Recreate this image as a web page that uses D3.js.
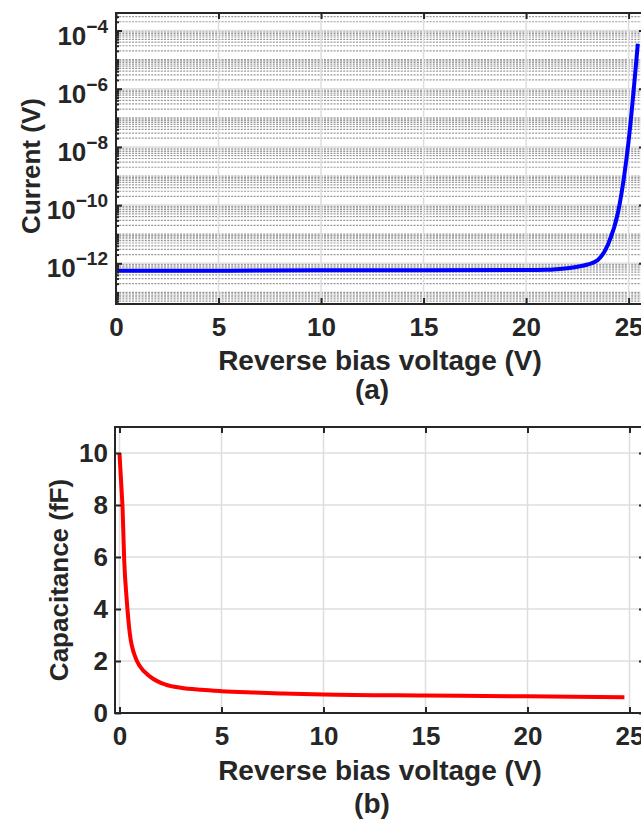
<!DOCTYPE html>
<html>
<head>
<meta charset="utf-8">
<script src="https://cdn.jsdelivr.net/npm/d3@7"></script>
<style>
  body { margin: 0; background: #fff; }
  text { font-family: "Liberation Sans", Arial, sans-serif; font-weight: bold; fill: #262626; }
</style>
</head>
<body>
<script>
// (a) reverse current vs bias
const voltA = [0, 5, 10, 15, 20, 21, 21.5, 22, 22.5, 23, 23.5, 24, 24.5, 25, 25.45]
const currentA = [5.6e-13, 5.6e-13, 5.8e-13, 5.8e-13, 5.9e-13, 6.0e-13, 6.3e-13, 6.8e-13, 7.6e-13, 9.1e-13, 1.3e-12, 4.5e-12, 6.3e-11, 1.6e-8, 3.5e-5]

// (b) capacitance vs bias
const voltB = [0, 0.1, 0.15, 0.23, 0.35, 0.5, 0.8, 1.0, 1.5, 2.3, 3, 4, 5, 6.5, 8, 10, 15, 20, 24.75]
const capB = [10, 8.6, 7.9, 5.9, 4.4, 3.1, 2.1, 1.8, 1.4, 1.08, 0.97, 0.89, 0.84, 0.79, 0.75, 0.71, 0.67, 0.64, 0.61]

const xTicks = [0, 5, 10, 15, 20, 25]
const yTicksA = [1e-12, 1e-10, 1e-8, 1e-6, 1e-4]
const yTicksB = [0, 2, 4, 6, 8, 10]
const xTitle = "Reverse bias voltage (V)"

var width = 641, height = 820
var axisColor = "#262626", gridColor = "#dedede"

var svg = d3.select("body").append("svg")
  .attr("width", width)
  .attr("height", height)

// ---------- panel (a) ----------
var xa = d3.scaleLinear().domain([0, 25.8]).range([116, 645])
var ya = d3.scaleLog().domain([4e-14, 4e-4]).range([304, 13])

var ga = svg.append("g")
ga.append("clipPath").attr("id", "clipA").append("rect")
  .attr("x", 116).attr("y", 13).attr("width", 529).attr("height", 291)

// minor grid (dotted), every k*10^n
var minorA = []
for (var n = -14; n <= -4; n++) {
  for (var k = 1; k <= 9; k++) {
    var v = k * Math.pow(10, n)
    if (v > 4e-14 && v < 4e-4 && yTicksA.indexOf(v) < 0) minorA.push(v)
  }
}
ga.append("g").selectAll("line").data(minorA).enter().append("line")
  .attr("x1", 116).attr("x2", 645)
  .attr("y1", d => ya(d)).attr("y2", d => ya(d))
  .attr("stroke", "#999999").attr("stroke-width", 1.2)
  .attr("stroke-dasharray", "2,1.2")

// major grid
ga.append("g").selectAll("line").data(xTicks).enter().append("line")
  .attr("x1", d => xa(d)).attr("x2", d => xa(d)).attr("y1", 13).attr("y2", 304)
  .attr("stroke", gridColor).attr("stroke-width", 1.5)
ga.append("g").selectAll("line").data(yTicksA).enter().append("line")
  .attr("x1", 116).attr("x2", 645).attr("y1", d => ya(d)).attr("y2", d => ya(d))
  .attr("stroke", gridColor).attr("stroke-width", 1.5)

var lineA = d3.line()
  .x((d, i) => xa(voltA[i]))
  .y(d => ya(d))
  .curve(d3.curveMonotoneX)
ga.append("path").datum(currentA)
  .attr("clip-path", "url(#clipA)")
  .attr("d", lineA)
  .attr("fill", "none").attr("stroke", "#0000ff").attr("stroke-width", 4)

// axes (ticks inward)
ga.append("g").attr("transform", "translate(0,304)")
  .call(d3.axisBottom(xa).tickValues(xTicks).tickSize(-6).tickPadding(14).tickFormat(d3.format("d")))
  .call(g => g.selectAll("text").style("font-size", "26px"))
ga.append("g").attr("transform", "translate(0,13)")
  .call(d3.axisTop(xa).tickValues(xTicks).tickSize(-6).tickFormat(""))
ga.append("g").attr("transform", "translate(116,0)")
  .call(d3.axisLeft(ya).tickValues(minorA).tickSize(-3).tickFormat(""))
ga.append("g").attr("transform", "translate(116,0)")
  .call(d3.axisLeft(ya).tickValues(yTicksA).tickSize(-6).tickFormat(""))
ga.append("g").attr("transform", "translate(645,0)")
  .call(d3.axisRight(ya).tickValues(yTicksA).tickSize(-6).tickFormat(""))
ga.append("g").attr("transform", "translate(645,0)")
  .call(d3.axisRight(ya).tickValues(minorA).tickSize(-3).tickFormat(""))

// log labels with superscripts
var labA = ga.append("g").selectAll("text").data(yTicksA).enter().append("text")
  .attr("x", 108).attr("y", d => ya(d) + 14)
  .attr("text-anchor", "end")
labA.append("tspan").style("font-size", "26px").text("10")
labA.append("tspan").style("font-size", "19px").attr("dy", -12)
  .text(d => "\u2212" + Math.round(-Math.log10(d)))

ga.append("rect").attr("x", 116).attr("y", 13).attr("width", 529).attr("height", 291)
  .attr("fill", "none").attr("stroke", axisColor).attr("stroke-width", 2)

ga.append("text").attr("x", 380).attr("y", 370).attr("text-anchor", "middle")
  .style("font-size", "28px").text(xTitle)
ga.append("text").attr("transform", "translate(40,166) rotate(-90)").attr("text-anchor", "middle")
  .style("font-size", "26px").text("Current (V)")
ga.append("text").attr("x", 372).attr("y", 399).attr("text-anchor", "middle")
  .style("font-size", "28px").text("(a)")

// ---------- panel (b) ----------
var xb = d3.scaleLinear().domain([-0.22, 25.76]).range([115, 645])
var yb = d3.scaleLinear().domain([0, 11]).range([713, 427])

var gb = svg.append("g")

gb.append("g").selectAll("line").data(xTicks).enter().append("line")
  .attr("x1", d => xb(d)).attr("x2", d => xb(d)).attr("y1", 427).attr("y2", 713)
  .attr("stroke", gridColor).attr("stroke-width", 1.5)
gb.append("g").selectAll("line").data(yTicksB).enter().append("line")
  .attr("x1", 115).attr("x2", 645).attr("y1", d => yb(d)).attr("y2", d => yb(d))
  .attr("stroke", gridColor).attr("stroke-width", 1.5)

var lineB = d3.line()
  .x((d, i) => xb(voltB[i]))
  .y(d => yb(d))
  .curve(d3.curveMonotoneX)
gb.append("path").datum(capB)
  .attr("d", lineB)
  .attr("fill", "none").attr("stroke", "#ff0000").attr("stroke-width", 4)

gb.append("g").attr("transform", "translate(0,713)")
  .call(d3.axisBottom(xb).tickValues(xTicks).tickSize(-6).tickPadding(14).tickFormat(d3.format("d")))
  .call(g => g.selectAll("text").style("font-size", "26px"))
gb.append("g").attr("transform", "translate(0,427)")
  .call(d3.axisTop(xb).tickValues(xTicks).tickSize(-6).tickFormat(""))
gb.append("g").attr("transform", "translate(115,0)")
  .call(d3.axisLeft(yb).tickValues(yTicksB).tickSize(-6).tickPadding(7).tickFormat(d3.format("d")))
  .call(g => g.selectAll("text").style("font-size", "26px"))
gb.append("g").attr("transform", "translate(645,0)")
  .call(d3.axisRight(yb).tickValues(yTicksB).tickSize(-6).tickFormat(""))

gb.append("rect").attr("x", 115).attr("y", 427).attr("width", 530).attr("height", 286)
  .attr("fill", "none").attr("stroke", axisColor).attr("stroke-width", 2)

gb.append("text").attr("x", 380).attr("y", 780).attr("text-anchor", "middle")
  .style("font-size", "28px").text(xTitle)
gb.append("text").attr("transform", "translate(68,580) rotate(-90)").attr("text-anchor", "middle")
  .style("font-size", "26px").text("Capacitance (fF)")
gb.append("text").attr("x", 372).attr("y", 813).attr("text-anchor", "middle")
  .style("font-size", "28px").text("(b)")

svg.selectAll(".domain").remove()
svg.selectAll(".tick line").attr("stroke", axisColor).attr("stroke-width", 2)
</script>
</body>
</html>
